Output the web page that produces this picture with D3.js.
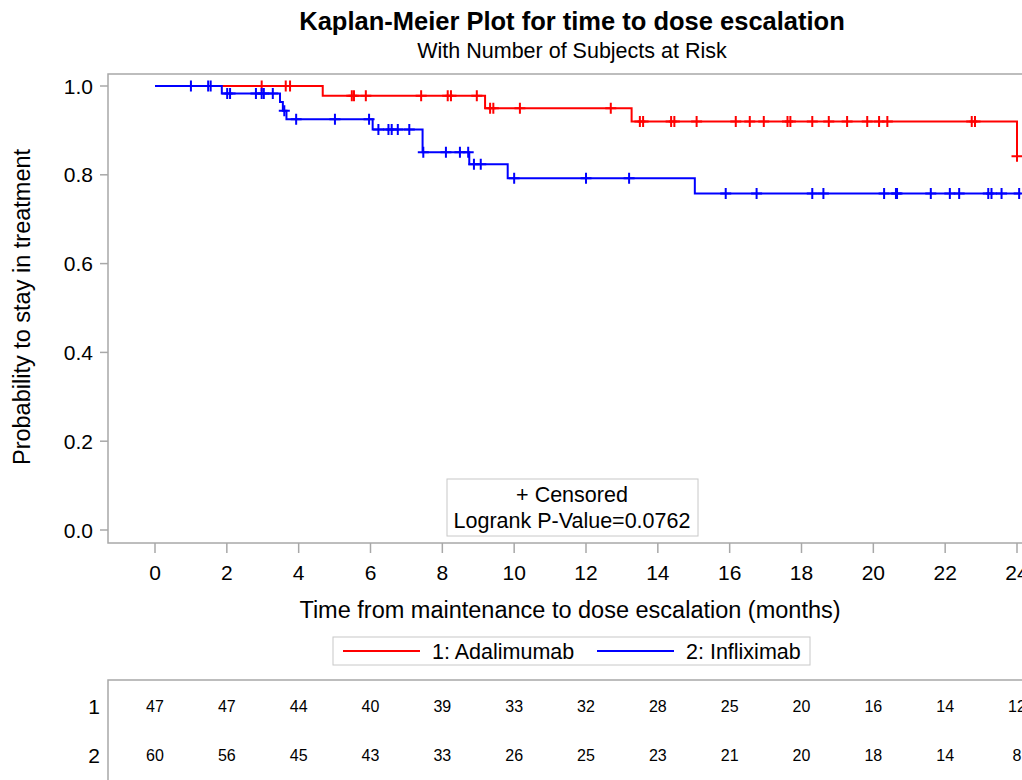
<!DOCTYPE html>
<html>
<head>
<meta charset="utf-8">
<script src="https://cdn.jsdelivr.net/npm/d3@7"></script>
<style>
  body { margin: 0; background: #fff; overflow: hidden; }
  svg { font-family: Arial, "Liberation Sans", sans-serif; display: block; }
</style>
</head>
<body>
<div id="chart"></div>
<script>
const timeTicks = [0, 2, 4, 6, 8, 10, 12, 14, 16, 18, 20, 22, 24];
const probTicks = [0, 0.2, 0.4, 0.6, 0.8, 1.0];

// survival steps: [time, probability after the drop]
const adaSteps = [[0, 1], [4.67, 0.978], [9.19, 0.95], [13.27, 0.92], [24.0, 0.842]];
const adaEnd = 24.0;
const adaCensored = [2.97, 3.64, 3.76, 5.48, 5.54, 5.87, 7.41, 8.15, 8.24, 8.96, 9.33, 9.42,
  10.16, 12.69, 13.5, 13.59, 14.37, 14.46, 15.08, 16.17, 16.56, 16.95, 17.61, 17.69, 18.3,
  18.76, 19.27, 19.83, 20.16, 20.39, 22.74, 22.83, 24.0];

const infSteps = [[0, 1], [1.86, 0.983], [3.48, 0.964], [3.56, 0.944], [3.66, 0.925],
  [6.06, 0.902], [7.45, 0.851], [8.75, 0.824], [9.82, 0.792], [15.03, 0.758]];
const infEnd = 24.1;
const infCensored = [1.0, 1.48, 1.55, 2.01, 2.09, 2.81, 2.97, 3.03, 3.28, 3.6, 3.93, 5.01,
  5.96, 6.22, 6.5, 6.59, 6.76, 7.08, 7.47, 8.1, 8.49, 8.72, 8.88, 9.07, 10.0, 12.0, 13.2,
  15.89, 16.75, 18.3, 18.61, 20.3, 20.63, 20.66, 21.6, 22.13, 22.39, 23.2, 23.29, 23.57, 24.06];

const adaAtRisk = [47, 47, 44, 40, 39, 33, 32, 28, 25, 20, 16, 14, 12];
const infAtRisk = [60, 56, 45, 43, 33, 26, 25, 23, 21, 20, 18, 14, 8];

const width = 1022;
const height = 780;
const frame = { left: 108, top: 74, right: 1036, bottom: 543 };
const gray = "#a8a8a8";

const svg = d3.select("#chart").append("svg")
  .attr("width", width)
  .attr("height", height);

const x = d3.scaleLinear().domain([0, 24]).range([155, 1017]);
const y = d3.scaleLinear().domain([0, 1]).range([530, 86]);

// titles
svg.append("text")
  .attr("x", 572).attr("y", 30)
  .attr("text-anchor", "middle")
  .attr("font-size", 25.5).attr("font-weight", "bold")
  .text("Kaplan-Meier Plot for time to dose escalation");

svg.append("text")
  .attr("x", 572).attr("y", 58)
  .attr("text-anchor", "middle")
  .attr("font-size", 21.5)
  .text("With Number of Subjects at Risk");

// plot frame
svg.append("rect")
  .attr("x", frame.left).attr("y", frame.top)
  .attr("width", frame.right - frame.left)
  .attr("height", frame.bottom - frame.top)
  .attr("fill", "none")
  .attr("stroke", gray)
  .attr("stroke-width", 1.5);

// y axis
const yAxis = svg.append("g");
yAxis.selectAll("line")
  .data(probTicks)
  .enter()
  .append("line")
  .attr("x1", frame.left - 8).attr("x2", frame.left)
  .attr("y1", (d) => y(d)).attr("y2", (d) => y(d))
  .attr("stroke", gray).attr("stroke-width", 1.5);
yAxis.selectAll("text")
  .data(probTicks)
  .enter()
  .append("text")
  .attr("x", 93)
  .attr("y", (d) => y(d) + 7.5)
  .attr("text-anchor", "end")
  .attr("font-size", 21)
  .text((d) => d.toFixed(1));

svg.append("text")
  .attr("transform", "translate(30,307) rotate(-90)")
  .attr("text-anchor", "middle")
  .attr("font-size", 23.5)
  .text("Probability to stay in treatment");

// x axis
const xAxis = svg.append("g");
xAxis.selectAll("line")
  .data(timeTicks)
  .enter()
  .append("line")
  .attr("x1", (d) => x(d)).attr("x2", (d) => x(d))
  .attr("y1", frame.bottom).attr("y2", frame.bottom + 10)
  .attr("stroke", gray).attr("stroke-width", 1.5);
xAxis.selectAll("text")
  .data(timeTicks)
  .enter()
  .append("text")
  .attr("x", (d) => x(d))
  .attr("y", 580)
  .attr("text-anchor", "middle")
  .attr("font-size", 21)
  .text((d) => d);

svg.append("text")
  .attr("x", 570).attr("y", 618)
  .attr("text-anchor", "middle")
  .attr("font-size", 23.5)
  .text("Time from maintenance to dose escalation (months)");

// survival curves
const stepPath = (steps, end) => {
  let p = `M${x(steps[0][0])},${y(steps[0][1])}`;
  for (let i = 1; i < steps.length; i++) {
    p += `H${x(steps[i][0])}V${y(steps[i][1])}`;
  }
  p += `H${x(end)}`;
  return p;
};

const survivalAt = (steps, t) => {
  let s = steps[0][1];
  steps.forEach((d) => {
    if (d[0] <= t) s = d[1];
  });
  return s;
};

const series = [
  { steps: adaSteps, end: adaEnd, censored: adaCensored, color: "#ff0000" },
  { steps: infSteps, end: infEnd, censored: infCensored, color: "#0000ff" },
];

series.forEach((s) => {
  const g = svg.append("g");
  g.append("path")
    .attr("d", stepPath(s.steps, s.end))
    .attr("fill", "none")
    .attr("stroke", s.color)
    .attr("stroke-width", 2);
  g.selectAll("path.censor")
    .data(s.censored)
    .enter()
    .append("path")
    .attr("class", "censor")
    .attr("transform", (d) => `translate(${x(d)},${y(survivalAt(s.steps, d))})`)
    .attr("d", "M-5.5,0H5.5M0,-5.5V5.5")
    .attr("stroke", s.color)
    .attr("stroke-width", 2);
});

// censored / logrank inset
svg.append("rect")
  .attr("x", 447).attr("y", 479)
  .attr("width", 251).attr("height", 57)
  .attr("fill", "#fff")
  .attr("stroke", "#c8c8c8");
svg.append("text")
  .attr("x", 572).attr("y", 502)
  .attr("text-anchor", "middle")
  .attr("font-size", 21.5)
  .text("+ Censored");
svg.append("text")
  .attr("x", 572).attr("y", 528)
  .attr("text-anchor", "middle")
  .attr("font-size", 21.5)
  .text("Logrank P-Value=0.0762");

// legend
const legend = svg.append("g");
legend.append("rect")
  .attr("x", 333).attr("y", 637)
  .attr("width", 477).attr("height", 28)
  .attr("fill", "#fff")
  .attr("stroke", "#c8c8c8");
const legendItems = [
  { label: "1: Adalimumab", color: "#ff0000", x0: 343 },
  { label: "2: Infliximab", color: "#0000ff", x0: 597 },
];
legendItems.forEach((d) => {
  legend.append("line")
    .attr("x1", d.x0).attr("x2", d.x0 + 77)
    .attr("y1", 651).attr("y2", 651)
    .attr("stroke", d.color).attr("stroke-width", 2);
  legend.append("text")
    .attr("x", d.x0 + 89).attr("y", 658.5)
    .attr("font-size", 21.5)
    .text(d.label);
});

// at-risk table
const table = svg.append("g");
table.append("path")
  .attr("d", `M${frame.left},${height + 5}V680H${frame.right}`)
  .attr("fill", "none")
  .attr("stroke", gray)
  .attr("stroke-width", 1.5);

const rows = [
  { label: "1", values: adaAtRisk, y: 712 },
  { label: "2", values: infAtRisk, y: 761 },
];
rows.forEach((r) => {
  table.append("text")
    .attr("x", 100).attr("y", r.y + 2)
    .attr("text-anchor", "end")
    .attr("font-size", 21)
    .text(r.label);
  table.selectAll(null)
    .data(r.values)
    .enter()
    .append("text")
    .attr("x", (d, i) => x(timeTicks[i]))
    .attr("y", r.y)
    .attr("text-anchor", "middle")
    .attr("font-size", 16)
    .text((d) => d);
});
</script>
</body>
</html>
